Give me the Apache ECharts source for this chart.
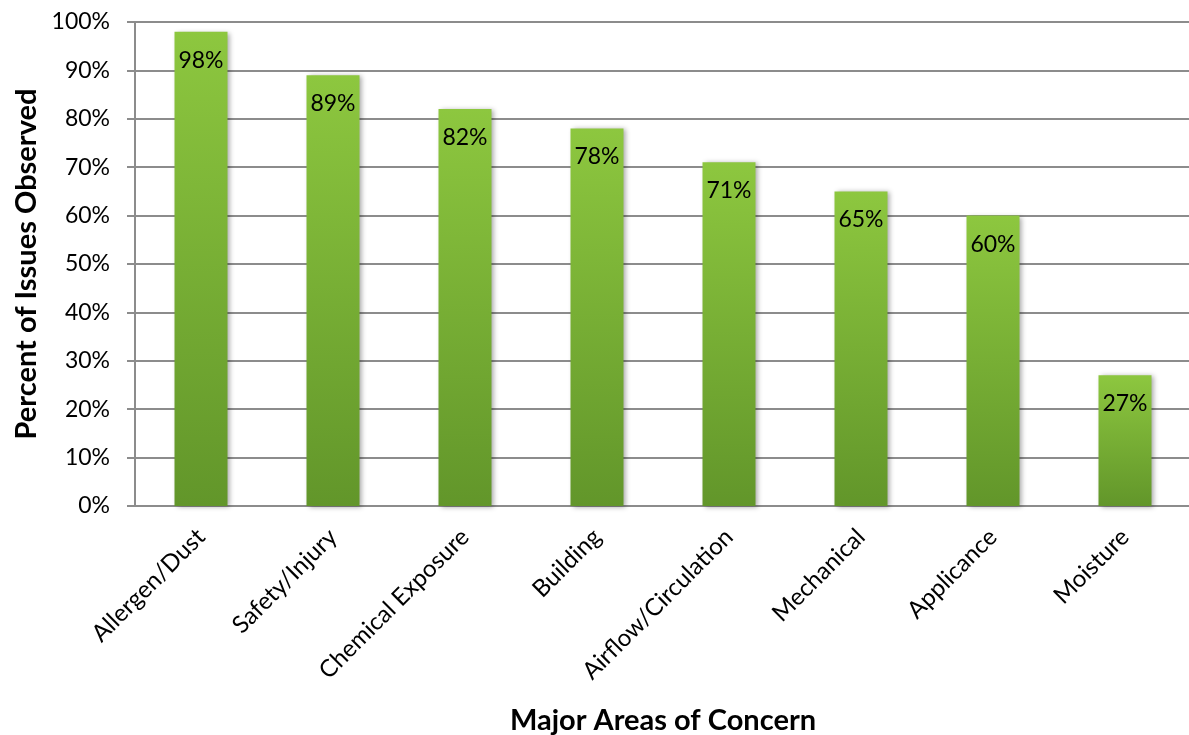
<!DOCTYPE html>
<html><head><meta charset="utf-8">
<script src="https://cdn.jsdelivr.net/npm/echarts@6/dist/echarts.min.js"></script>
<style>html,body{margin:0;padding:0;background:#fff}#c{width:1189px;height:735px}</style>
</head><body><div id="c"></div>
<script>
var categories = ["Allergen/Dust","Safety/Injury","Chemical Exposure","Building","Airflow/Circulation","Mechanical","Applicance","Moisture"];
var values = [98,89,82,78,71,65,60,27];
var yTicks = [0,10,20,30,40,50,60,70,80,90,100];
var FONT = "Lato";
var chart = echarts.init(document.getElementById('c'));
chart.setOption({
  animation:false,
  grid:{left:135,right:-2,top:22,bottom:229,containLabel:false,outerBoundsMode:'none'},
  xAxis:{type:'category',data:categories,
    name:'Major Areas of Concern',nameLocation:'middle',nameGap:200,
    nameTextStyle:{fontFamily:FONT,fontSize:29,fontWeight:'bold',color:'#000'},
    axisLine:{lineStyle:{color:'#8c8c8c',width:2}},
    axisTick:{show:false},
    axisLabel:{rotate:45,interval:0,fontFamily:FONT,fontSize:24,color:'#000',margin:27}},
  yAxis:{type:'value',min:0,max:100,interval:10,
    name:'Percent of Issues Observed',nameLocation:'middle',nameGap:93,
    nameTextStyle:{fontFamily:FONT,fontSize:29,fontWeight:'bold',color:'#000'},
    axisLine:{show:true,lineStyle:{color:'#8c8c8c',width:2}},
    axisTick:{show:true,length:8,lineStyle:{color:'#8c8c8c',width:2}},
    splitLine:{lineStyle:{color:'#8c8c8c',width:2}},
    axisLabel:{fontFamily:FONT,fontSize:23,color:'#000',margin:25,
      formatter:function(v){return yTicks.indexOf(v)>=0? v+'%':'';}}},
  series:[{type:'bar',data:values,barWidth:53,
    itemStyle:{color:new echarts.graphic.LinearGradient(0,0,0,1,[{offset:0,color:'#8dc73f'},{offset:1,color:'#62962a'}]),
      shadowColor:'rgba(0,0,0,0.35)',shadowBlur:5,shadowOffsetX:2,shadowOffsetY:1},
    label:{show:true,position:'insideTop',distance:17,fontFamily:FONT,fontSize:23,color:'#000',
      formatter:function(p){return p.value+'%';}}}]
});
</script></body></html>
